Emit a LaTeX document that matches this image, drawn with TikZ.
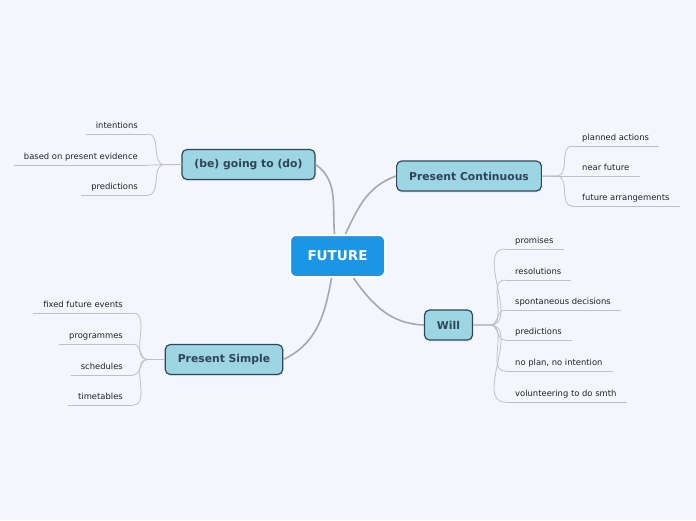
\documentclass[tikz,border=0pt]{standalone}
\usepackage{fontspec}
\setmainfont{DejaVu Sans}
\usetikzlibrary{shadows}
\definecolor{bgcol}{RGB}{244,246,254}
\definecolor{rootfill}{RGB}{27,150,230}
\definecolor{brfill}{RGB}{158,213,226}
\definecolor{brline}{RGB}{45,72,90}
\definecolor{brtext}{RGB}{46,68,87}
\definecolor{lftext}{RGB}{34,34,34}
\definecolor{trunkcol}{RGB}{168,168,170}
\definecolor{twigcol}{RGB}{192,192,196}

\begin{document}
\begin{tikzpicture}[x=1pt,y=1pt]
    \tikzset{root/.style={rectangle, rounded corners=6pt, fill=rootfill, draw=white, line width=2pt,
                          minimum width=95pt, minimum height=42pt, text=white,
                          font=\fontsize{13.5}{16}\selectfont\bfseries},
             br/.style={rectangle, rounded corners=5pt, fill=brfill, draw=brline, line width=1.2pt,
                        minimum height=30pt, inner xsep=12.5pt, text=brtext,
                        font=\fontsize{10.8}{13}\selectfont\bfseries,
                        drop shadow={opacity=0.12, shadow xshift=0.6pt, shadow yshift=-1.6pt}},
             lf/.style={inner xsep=10pt, inner ysep=3pt, text height=6.5pt, text depth=2.5pt,
                        text=lftext, font=\fontsize{8.4}{10}\selectfont},
             trunk/.style={draw=trunkcol, line width=1.6pt},
             twig/.style={draw=twigcol, line width=0.8pt}}
    \fill[bgcol] (0,0) rectangle (696,-520);
    \useasboundingbox (0,0) rectangle (696,-520);

    % ---- Centre ----
    \node[root] (fut) at (337.5,-256) {FUTURE};

    % ---- Branch 1: (be) going to (do) ----
    \node[br] (g) at (248.5,-164.5) {(be) going to (do)};
    \node[lf, anchor=south east] (g1) at (148,-134) {intentions};
    \node[lf, anchor=south east] (g2) at (148,-165) {based on present evidence};
    \node[lf, anchor=south east] (g3) at (148,-195) {predictions};
    \draw[twig] (g1.south west) -- (g1.south east) (g2.south west) -- (g2.south east)
          (g3.south west) -- (g3.south east);
    \draw[twig] (g.west) -- ++(-17,0) to[out=180,in=0] (g1.south east);
    \draw[twig] (g.west) -- (g2.south east);
    \draw[twig] (g.west) -- ++(-17,0) to[out=180,in=0] (g3.south east);

    % ---- Branch 2: Present Continuous ----
    \node[br] (c) at (469,-176) {Present Continuous};
    \node[lf, anchor=south west] (c1) at (572,-146) {planned actions};
    \node[lf, anchor=south west] (c2) at (572,-176) {near future};
    \node[lf, anchor=south west] (c3) at (572,-206) {future arrangements};
    \draw[twig] (c1.south west) -- (c1.south east) (c2.south west) -- (c2.south east)
          (c3.south west) -- (c3.south east);
    \draw[twig] (c.east) -- ++(15,0) to[out=0,in=180] (c1.south west);
    \draw[twig] (c.east) -- (c2.south west);
    \draw[twig] (c.east) -- ++(15,0) to[out=0,in=180] (c3.south west);

    % ---- Branch 3: Will ----
    \node[br] (w) at (448.5,-325) {Will};
    \node[lf, anchor=south west] (w1) at (505,-249) {promises};
    \node[lf, anchor=south west] (w2) at (505,-280) {resolutions};
    \node[lf, anchor=south west] (w3) at (505,-310) {spontaneous decisions};
    \node[lf, anchor=south west] (w4) at (505,-340) {predictions};
    \node[lf, anchor=south west] (w5) at (505,-371) {no plan, no intention};
    \node[lf, anchor=south west] (w6) at (505,-402) {volunteering to do smth};
    \draw[twig] (w1.south west) -- (w1.south east) (w2.south west) -- (w2.south east)
          (w3.south west) -- (w3.south east) (w4.south west) -- (w4.south east)
          (w5.south west) -- (w5.south east) (w6.south west) -- (w6.south east);
    \draw[twig] (w.east) -- ++(17,0) to[out=0,in=180] (w1.south west);
    \draw[twig] (w.east) -- ++(17,0) to[out=0,in=180] (w2.south west);
    \draw[twig] (w.east) -- ++(17,0) to[out=0,in=180] (w3.south west);
    \draw[twig] (w.east) -- ++(17,0) to[out=0,in=180] (w4.south west);
    \draw[twig] (w.east) -- ++(17,0) to[out=0,in=180] (w5.south west);
    \draw[twig] (w.east) -- ++(17,0) to[out=0,in=180] (w6.south west);

    % ---- Branch 4: Present Simple ----
    \node[br] (s) at (224,-359.5) {Present Simple};
    \node[lf, anchor=south east] (s1) at (133,-313) {fixed future events};
    \node[lf, anchor=south east] (s2) at (133,-344) {programmes};
    \node[lf, anchor=south east] (s3) at (133,-375) {schedules};
    \node[lf, anchor=south east] (s4) at (133,-405) {timetables};
    \draw[twig] (s1.south west) -- (s1.south east) (s2.south west) -- (s2.south east)
          (s3.south west) -- (s3.south east) (s4.south west) -- (s4.south east);
    \draw[twig] (s.west) -- ++(-17,0) to[out=180,in=0] (s1.south east);
    \draw[twig] (s.west) -- ++(-17,0) to[out=180,in=0] (s2.south east);
    \draw[twig] (s.west) -- ++(-17,0) to[out=180,in=0] (s3.south east);
    \draw[twig] (s.west) -- ++(-17,0) to[out=180,in=0] (s4.south east);

    % ---- Main connectors ----
    \draw[trunk] ([xshift=-3pt]fut.north) to[out=95,in=-35] (g.east);
    \draw[trunk] ([xshift=8pt]fut.north) to[out=65,in=200] (c.west);
    \draw[trunk] ([xshift=-6pt]fut.south) to[out=-100,in=25] (s.east);
    \draw[trunk] ([xshift=16pt]fut.south) to[out=-55,in=178] (w.west);
    \end{tikzpicture}
\end{document}
